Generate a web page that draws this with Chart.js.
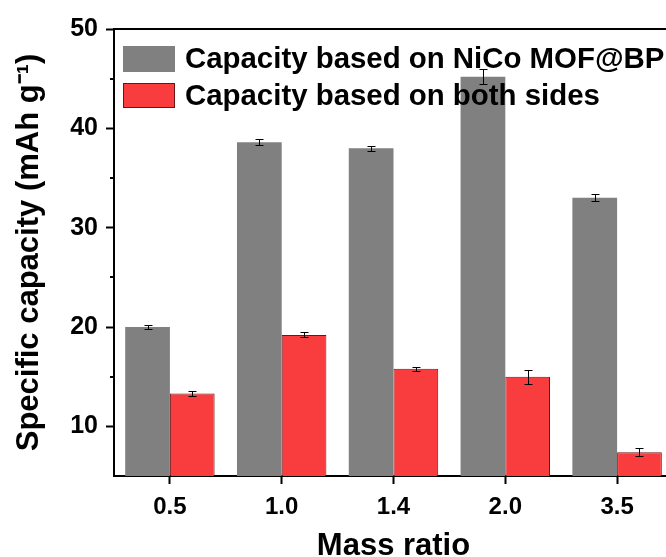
<!DOCTYPE html>
<html>
<head>
<meta charset="utf-8">
<script src="https://cdn.jsdelivr.net/npm/chart.js@4.4.1/dist/chart.umd.min.js"></script>
<style>
html, body { margin: 0; padding: 0; background: #fff; overflow: hidden; width: 666px; height: 557px; }
canvas { display: block; }
</style>
</head>
<body>
<canvas id="chart1" width="700" height="572"></canvas>
<script>
// data
var massRatios = ['0.5', '1.0', '1.4', '2.0', '3.5'];
var capacityMof = [20.0, 38.6, 38.0, 45.2, 33.0];
var capacityMofErr = [0.25, 0.3, 0.25, 0.75, 0.35];
var capacityBoth = [13.3, 19.2, 15.8, 15.0, 7.4];
var capacityBothErr = [0.25, 0.25, 0.2, 0.7, 0.4];
var yTicks = [10, 20, 30, 40, 50];
var yMinorTicks = [15, 25, 35, 45];

var fontFamily = '"Liberation Sans", Arial, sans-serif';

// error bars, minor ticks and the top frame line
var extrasPlugin = {
    id: 'extras',
    afterDatasetsDraw: function(chart) {
        var ctx = chart.ctx;
        var yScale = chart.scales.y;
        ctx.save();
        ctx.strokeStyle = '#000';
        ctx.lineWidth = 1;
        chart.data.datasets.forEach(function(ds, i) {
            var meta = chart.getDatasetMeta(i);
            meta.data.forEach(function(bar, j) {
                var v = ds.data[j], e = ds.errors[j];
                var yt = Math.round(yScale.getPixelForValue(v + e)) + 0.5;
                var yb = Math.round(yScale.getPixelForValue(v - e)) + 0.5;
                var x = Math.round(bar.x) + 0.5;
                ctx.beginPath();
                ctx.moveTo(x, yt); ctx.lineTo(x, yb);
                ctx.moveTo(x - 4, yt); ctx.lineTo(x + 4, yt);
                ctx.moveTo(x - 4, yb); ctx.lineTo(x + 4, yb);
                ctx.stroke();
            });
        });
        ctx.restore();
    },
    afterDraw: function(chart) {
        var ctx = chart.ctx;
        var area = chart.chartArea;
        var yScale = chart.scales.y;
        ctx.save();
        ctx.strokeStyle = '#000';
        ctx.lineWidth = 2;
        ctx.beginPath();
        ctx.moveTo(area.left - 1, area.top);
        ctx.lineTo(area.right, area.top);
        ctx.lineTo(area.right, area.bottom);
        yMinorTicks.forEach(function(v) {
            var y = Math.round(yScale.getPixelForValue(v));
            ctx.moveTo(area.left - 4, y);
            ctx.lineTo(area.left, y);
        });
        ctx.stroke();

        // legend inside the plot
        var boxX = area.left + 9, boxW = 52;
        var rows = [
            { y: 46, h: 26, ds: chart.data.datasets[0] },
            { y: 83, h: 25, ds: chart.data.datasets[1] }
        ];
        ctx.font = 'bold 29.4px ' + fontFamily;
        ctx.textBaseline = 'middle';
        ctx.textAlign = 'left';
        rows.forEach(function(r) {
            ctx.fillStyle = r.ds.backgroundColor;
            ctx.fillRect(boxX, r.y, boxW, r.h);
            if (r.ds.borderWidth) {
                ctx.lineWidth = 1;
                ctx.strokeStyle = r.ds.borderColor;
                ctx.strokeRect(boxX + 0.5, r.y + 0.5, boxW - 1, r.h - 1);
            }
            ctx.fillStyle = '#000';
            ctx.fillText(r.ds.label, boxX + boxW + 10, r.y + r.h / 2 + 1);
        });
        ctx.restore();
    }
};

var ctx = document.getElementById('chart1').getContext('2d');
var myChart = new Chart(ctx, {
    type: 'bar',
    data: {
        labels: massRatios,
        datasets: [{
            label: 'Capacity based on NiCo MOF@BP',
            data: capacityMof,
            errors: capacityMofErr,
            backgroundColor: '#808080',
            borderWidth: 0
        },
        {
            label: 'Capacity based on both sides',
            data: capacityBoth,
            errors: capacityBothErr,
            backgroundColor: '#F93C3E',
            borderColor: '#6e1414',
            borderWidth: 1
        }]
    },
    options: {
        responsive: false,
        animation: false,
        categoryPercentage: 0.8,
        barPercentage: 1.0,
        layout: {
            padding: { top: 29, right: 27, left: 0, bottom: 0 }
        },
        plugins: {
            legend: { display: false },
            tooltip: { enabled: false }
        },
        scales: {
            x: {
                grid: {
                    offset: false,
                    drawOnChartArea: false,
                    tickLength: 8,
                    tickWidth: 2,
                    tickColor: '#000'
                },
                border: { color: '#000', width: 2 },
                ticks: {
                    color: '#000',
                    padding: 9,
                    font: { family: fontFamily, size: 24, weight: 'bold' }
                },
                title: {
                    display: true,
                    text: 'Mass ratio',
                    color: '#000',
                    padding: { top: 0, bottom: 7 },
                    font: { family: fontFamily, size: 31, weight: 'bold' }
                },
                afterFit: function(scale) { scale.height = 96; }
            },
            y: {
                min: 5,
                max: 50,
                afterBuildTicks: function(scale) {
                    scale.ticks = yTicks.map(function(v) { return { value: v }; });
                },
                grid: {
                    drawOnChartArea: false,
                    tickLength: 8,
                    tickWidth: 2,
                    tickColor: '#000'
                },
                border: { color: '#000', width: 2 },
                ticks: {
                    color: '#000',
                    padding: 8,
                    font: { family: fontFamily, size: 25, weight: 'bold' }
                },
                title: {
                    display: true,
                    text: 'Specific capacity (mAh g\u207B\u00B9)',
                    color: '#000',
                    padding: { top: 11, bottom: 0 },
                    font: { family: fontFamily, size: 31, weight: 'bold' }
                },
                afterFit: function(scale) { scale.width = 114; }
            }
        }
    },
    plugins: [extrasPlugin]
});
</script>
</body>
</html>
